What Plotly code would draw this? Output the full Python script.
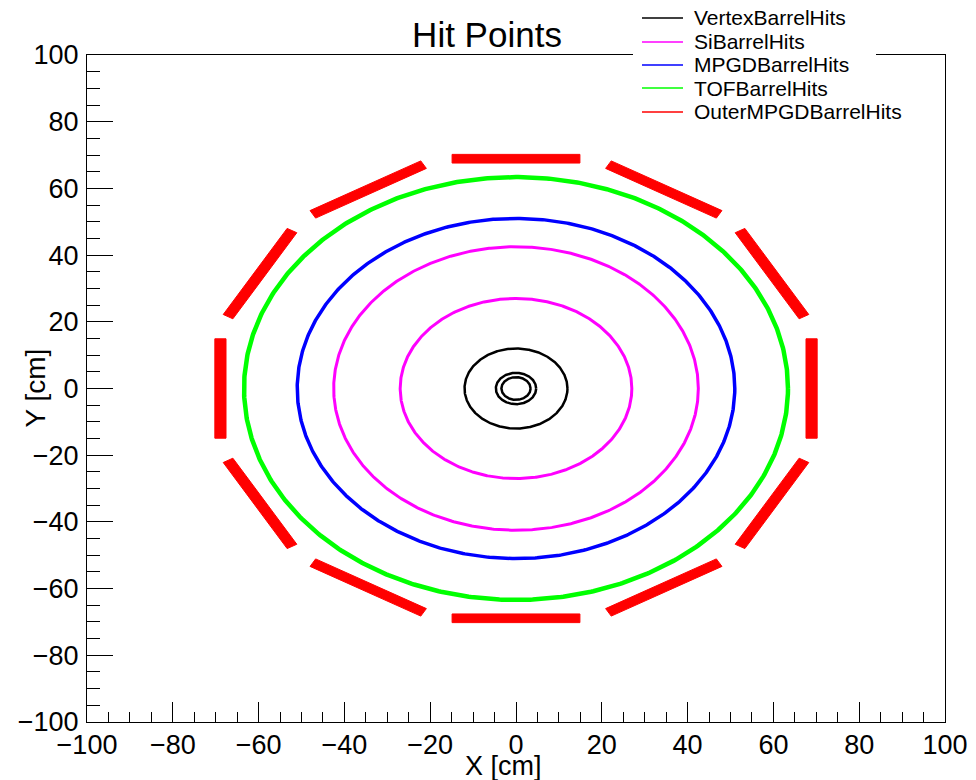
import numpy as np
import plotly.graph_objects as go

# ---- data (cm) ----
legend_names = ["VertexBarrelHits", "SiBarrelHits", "MPGDBarrelHits", "TOFBarrelHits", "OuterMPGDBarrelHits"]
legend_colors = ["#000000", "#ff00ff", "#0000ff", "#00ff00", "#ff0000"]

vertex_radii = [3.4, 4.7, 12.0]
si_radii = [27.0, 42.5]
mpgd_radii = [51.0]
tof_radii = [63.4]

outer_mpgd_angles_deg = [0, 30, 60, 90, 120, 150, 180, 210, 240, 270, 300, 330]
outer_mpgd_r_inner = 67.6
outer_mpgd_r_outer = 70.2
outer_mpgd_half_len = 14.9

ring_widths = [2.5, 3, 3.5, 4.5]

axis_ticks = [-100, -80, -60, -40, -20, 0, 20, 40, 60, 80, 100]

fig = go.Figure()

theta = np.linspace(0, 2 * np.pi, 721)

def add_rings(radii, color, width):
    for r in radii:
        fig.add_trace(go.Scatter(
            x=r * np.cos(theta), y=r * np.sin(theta), mode="lines",
            line=dict(color=color, width=width), showlegend=False, hoverinfo="skip"))

add_rings(vertex_radii, legend_colors[0], ring_widths[0])
add_rings(si_radii, legend_colors[1], ring_widths[1])
add_rings(mpgd_radii, legend_colors[2], ring_widths[2])
add_rings(tof_radii, legend_colors[3], ring_widths[3])

# outer MPGD staves: filled quadrilaterals
for a in outer_mpgd_angles_deg:
    t = np.deg2rad(a)
    n = np.array([np.cos(t), np.sin(t)])
    tg = np.array([-np.sin(t), np.cos(t)])
    pts = [n * outer_mpgd_r_inner - tg * outer_mpgd_half_len,
           n * outer_mpgd_r_inner + tg * outer_mpgd_half_len,
           n * outer_mpgd_r_outer + tg * outer_mpgd_half_len,
           n * outer_mpgd_r_outer - tg * outer_mpgd_half_len]
    xs = [p[0] for p in pts] + [pts[0][0]]
    ys = [p[1] for p in pts] + [pts[0][1]]
    fig.add_trace(go.Scatter(x=xs, y=ys, mode="lines", fill="toself",
                             fillcolor=legend_colors[4], line=dict(color=legend_colors[4], width=1),
                             showlegend=False, hoverinfo="skip"))

font_family = "Liberation Sans, Arial, sans-serif"

W, H = 976, 780
L, R, T, B = 87, 31, 55, 58
PW, PH = W - L - R, H - T - B

def px_x(px):
    return (px - L) / PW

def px_y(py):
    return (H - B - py) / PH

axis_common = dict(
    range=[-100, 100], tickvals=axis_ticks, ticks="inside", tickcolor="black",
    showline=True, linecolor="black", linewidth=1, mirror=True,
    showgrid=False, zeroline=False, automargin=False,
    tickfont=dict(family=font_family, size=27, color="black"),
    minor=dict(ticks="inside", dtick=5, tick0=0, tickcolor="black", showgrid=False),
)

fig.update_xaxes(**axis_common, ticklen=20, ticklabelstandoff=-1)
fig.update_xaxes(minor_ticklen=10)
fig.update_yaxes(**axis_common, ticklen=26, ticklabelstandoff=2)
fig.update_yaxes(minor_ticklen=13)

# manual legend (ROOT TLegend look)
shapes = [dict(type="rect", xref="paper", yref="paper",
               x0=px_x(633), x1=px_x(876), y0=px_y(128), y1=px_y(2),
               fillcolor="white", line=dict(width=0), layer="above")]
annotations = []
row_y = [18, 42, 65, 88, 112]
for name, color, ry in zip(legend_names, legend_colors, row_y):
    shapes.append(dict(type="line", xref="paper", yref="paper",
                       x0=px_x(642), x1=px_x(683), y0=px_y(ry), y1=px_y(ry),
                       line=dict(color=color, width=1.5), layer="above"))
    annotations.append(dict(text=name, x=px_x(692), y=px_y(ry), xref="paper", yref="paper",
                            xanchor="left", yanchor="middle", showarrow=False,
                            font=dict(family=font_family, size=21, color="black")))

annotations += [
    dict(text="X [cm]", x=px_x(503), y=px_y(766), xref="paper", yref="paper",
         xanchor="center", yanchor="middle", showarrow=False,
         font=dict(family=font_family, size=27, color="black")),
    dict(text="Y [cm]", x=px_x(35), y=0.5, xref="paper", yref="paper",
         xanchor="center", yanchor="middle", showarrow=False, textangle=-90,
         font=dict(family=font_family, size=28, color="black")),
]

fig.update_layout(
    width=W, height=H,
    margin=dict(l=L, r=R, t=T, b=B, autoexpand=False),
    paper_bgcolor="white", plot_bgcolor="white",
    title=dict(text="Hit Points", x=487 / W, xref="container", xanchor="center",
               y=1 - 35 / H, yref="container", yanchor="middle",
               font=dict(family=font_family, size=35, color="black")),
    shapes=shapes,
    annotations=annotations,
    showlegend=False,
)

fig.write_html("out.html", config={"displayModeBar": False},
               post_script="document.body.style.margin='0';document.body.style.padding='0';")
